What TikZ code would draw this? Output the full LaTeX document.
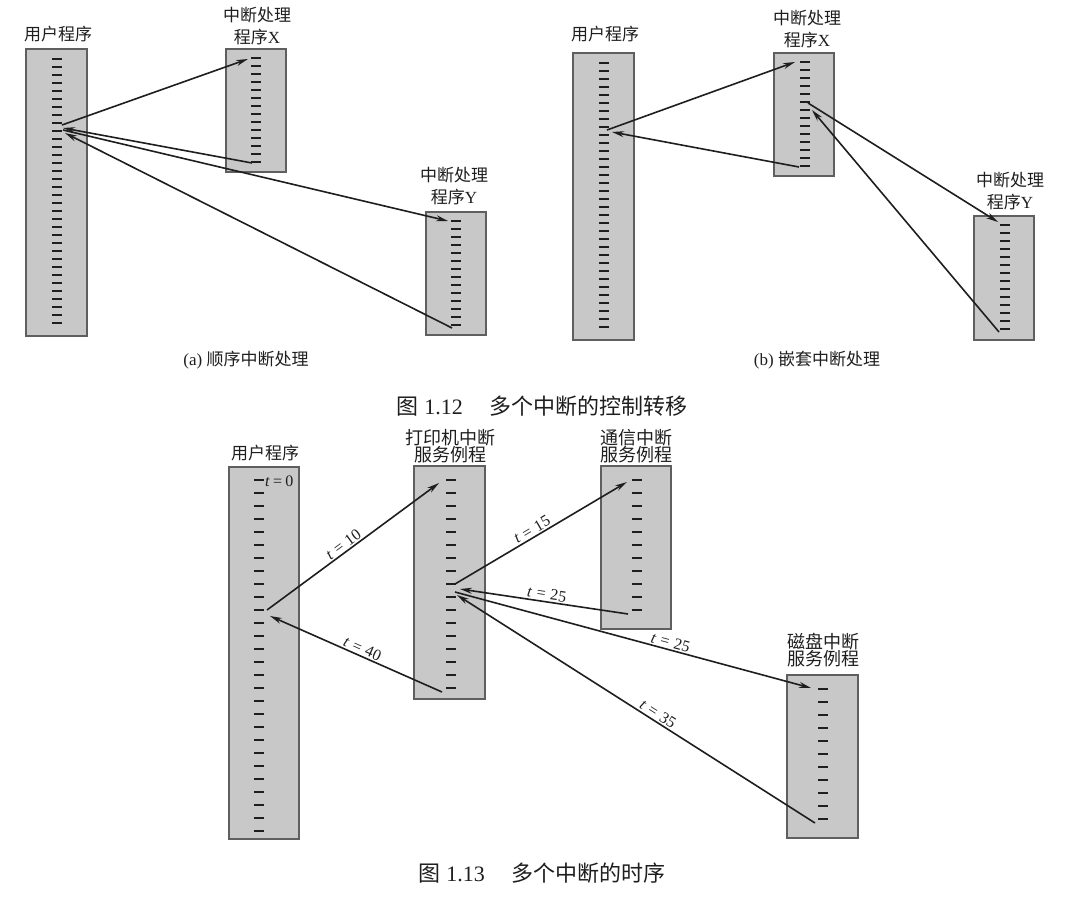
\documentclass[tikz,border=0pt]{standalone}
\usepackage{fontspec}
\setmainfont{Liberation Serif}
\newfontfamily\cjk{Noto Sans CJK SC}
\usetikzlibrary{arrows.meta,fit}
\definecolor{barfill}{RGB}{200,200,200}
\definecolor{barline}{RGB}{95,95,95}
\definecolor{ink}{RGB}{30,30,30}
\newcommand\mybar[9]{%
  \node[barbox, fit={(#2,#3) (#4,#5)}] (#1) {};
  \foreach \k in {1,...,#8}{\draw[tickmark] (#6,{#7+(\k-1)*#9}) -- ++(10,0);}
}
\newcommand\tval[1]{\textit{t}\hspace{0.3em}=\hspace{0.3em}#1}
\begin{document}
\begin{tikzpicture}[x=1pt,y=-1pt,
  barbox/.style={draw=barline, fill=barfill, line width=1.1pt, inner sep=0pt},
  tickmark/.style={draw=ink, line width=2pt},
  conn/.style={draw=ink, line width=1.6pt, -{Stealth[length=12pt,width=6pt]}},
  lbl/.style={font=\fontsize{17}{22}\selectfont, text=ink, align=center, inner sep=0pt},
  lblc/.style={font=\fontsize{18}{17.5}\selectfont, text=ink, align=center, inner sep=0pt},
  tl/.style={font=\fontsize{16}{16}\selectfont, text=ink, sloped, above, inner sep=1.5pt},
  subcap/.style={font=\fontsize{17}{17}\selectfont, text=ink, inner sep=0pt},
  figcap/.style={font=\fontsize{22}{22}\selectfont, text=ink, inner sep=0pt}]
\useasboundingbox (0,0) rectangle (1078,912);

% ---------- (a) ----------
\mybar{aU}{26}{49}{87}{336}{52}{59}{34}{8}
\mybar{aX}{226}{49}{286}{172}{251}{58}{14}{8}
\mybar{aY}{426}{212}{486}{335}{451}{221}{14}{8}
\node[lbl] (aUl) at (58,34) {{\cjk 用户程序}};
\node[lbl] (aXl) at (257,26) {{\cjk 中断处理}\\{\cjk 程序}X};
\node[lbl] (aYl) at (454,186) {{\cjk 中断处理}\\{\cjk 程序}Y};
\coordinate (aU1) at (62,125); \coordinate (aX1) at (248,59);
\coordinate (aX2) at (252,163); \coordinate (aU2) at (63,128);
\coordinate (aU3) at (63,130); \coordinate (aY1) at (448,221);
\coordinate (aY2) at (452,328); \coordinate (aU4) at (65,133);
\draw[conn] (aU1) -- (aX1);
\draw[conn] (aX2) -- (aU2);
\draw[conn] (aU3) -- (aY1);
\draw[conn] (aY2) -- (aU4);
\node[subcap] (acap) at (246,360) {(a)\ {\cjk 顺序中断处理}};

% ---------- (b) ----------
\mybar{bU}{573}{53}{634}{340}{599}{63}{34}{8}
\mybar{bX}{774}{53}{834}{176}{800}{62}{14}{8}
\mybar{bY}{974}{216}{1034}{340}{1000}{225}{14}{8}
\node[lbl] (bUl) at (605,34) {{\cjk 用户程序}};
\node[lbl] (bXl) at (807,29) {{\cjk 中断处理}\\{\cjk 程序}X};
\node[lbl] (bYl) at (1010,191) {{\cjk 中断处理}\\{\cjk 程序}Y};
\coordinate (bU1) at (607,130); \coordinate (bX1) at (795,62);
\coordinate (bX2) at (799,167); \coordinate (bU2) at (612,132);
\coordinate (bX3) at (808,103); \coordinate (bY1) at (998,222);
\coordinate (bY2) at (999,332); \coordinate (bX4) at (812,110);
\draw[conn] (bU1) -- (bX1);
\draw[conn] (bX2) -- (bU2);
\draw[conn] (bX3) -- (bY1);
\draw[conn] (bY2) -- (bX4);
\node[subcap] (bcap) at (817,360) {(b)\ {\cjk 嵌套中断处理}};

\node[figcap] (fig12) at (542,406) {{\cjk 图} 1.12\hspace{1.2em}{\cjk 多个中断的控制转移}};

% ---------- Fig 1.13 ----------
\mybar{cU}{229}{467}{299}{839}{254}{480}{28}{13}
\mybar{cP}{414}{466}{485}{699}{446}{480}{17}{13}
\mybar{cC}{601}{466}{671}{629}{632}{480}{11}{13}
\mybar{cD}{787}{675}{858}{838}{818}{689}{11}{13}
\node[lbl] (cUl) at (265,453) {{\cjk 用户程序}};
\node[lblc] (cPl) at (450,446) {{\cjk 打印机中断}\\{\cjk 服务例程}};
\node[lblc] (cCl) at (636,446) {{\cjk 通信中断}\\{\cjk 服务例程}};
\node[lblc] (cDl) at (823,650) {{\cjk 磁盘中断}\\{\cjk 服务例程}};
\node[font=\fontsize{16}{16}\selectfont, text=ink, anchor=west, inner sep=0pt] (t0) at (265,481) {\textit{t}\hspace{0.2em}=\hspace{0.2em}0};
\coordinate (cU1) at (267,610); \coordinate (cP1) at (439,483);
\coordinate (cP2) at (442,692); \coordinate (cU2) at (270,616);
\coordinate (cP3) at (455,584); \coordinate (cC1) at (627,482);
\coordinate (cC2) at (628,614); \coordinate (cP4) at (460,589);
\coordinate (cP5) at (455,592); \coordinate (cD1) at (811,688);
\coordinate (cD2) at (815,823); \coordinate (cP6) at (457,595);
\draw[conn] (cU1) -- node[tl, pos=0.47] {\tval{10}} (cP1);
\draw[conn] (cP2) -- node[tl, pos=0.48] {\tval{40}} (cU2);
\draw[conn] (cP3) -- node[tl, pos=0.47] {\tval{15}} (cC1);
\draw[conn] (cC2) -- node[tl, pos=0.49] {\tval{25}} (cP4);
\draw[conn] (cP5) -- node[tl, pos=0.6] {\tval{25}} (cD1);
\draw[conn] (cD2) -- node[tl, pos=0.45] {\tval{35}} (cP6);

\node[figcap] (fig13) at (542,873) {{\cjk 图} 1.13\hspace{1.2em}{\cjk 多个中断的时序}};
\end{tikzpicture}
\end{document}
